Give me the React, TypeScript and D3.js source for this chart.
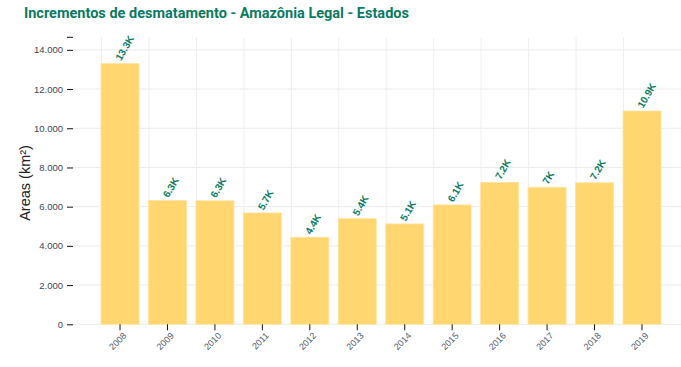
import React, { useEffect, useRef } from "react";
import * as d3 from "d3";

const years = ["2008", "2009", "2010", "2011", "2012", "2013", "2014", "2015", "2016", "2017", "2018", "2019"];
const areas = [13300, 6310, 6300, 5680, 4440, 5390, 5120, 6090, 7240, 6990, 7220, 10880];
const yTicks = [0, 2000, 4000, 6000, 8000, 10000, 12000, 14000];

const GREEN = "#0b7a63";
const BAR = "#ffd66f";

export default function App() {
  const ref = useRef<SVGSVGElement>(null);

  useEffect(() => {
    const width = 681;
    const svg = d3.select(ref.current);
    svg.selectAll("*").remove();

    const x = d3
      .scaleBand<string>()
      .domain(years)
      .range([96.3, 665.7])
      .paddingInner(0.2)
      .paddingOuter(0.1);

    const y = d3.scaleLinear().domain([0, 14640]).range([324.3, 37.3]);

    // title
    svg
      .append("text")
      .attr("x", 24)
      .attr("y", 17.5)
      .attr("fill", GREEN)
      .attr("font-family", "Roboto, sans-serif")
      .attr("font-weight", 700)
      .attr("font-size", 14.5)
      .text("Incrementos de desmatamento - Amazônia Legal - Estados");

    // horizontal grid
    svg
      .append("g")
      .selectAll("line")
      .data(yTicks)
      .join("line")
      .attr("x1", 73)
      .attr("x2", width)
      .attr("y1", (d) => y(d))
      .attr("y2", (d) => y(d))
      .attr("stroke", "#ececec")
      .attr("stroke-width", 1);

    // vertical grid at bar starts
    svg
      .append("g")
      .selectAll("line")
      .data(years)
      .join("line")
      .attr("x1", (d) => (x(d) as number) + 0.5)
      .attr("x2", (d) => (x(d) as number) + 0.5)
      .attr("y1", y.range()[1])
      .attr("y2", y(0))
      .attr("stroke", "#efefef")
      .attr("stroke-width", 1);

    // y axis
    const yAxis = svg
      .append("g")
      .attr("transform", `translate(73,0)`)
      .call(
        d3
          .axisLeft(y)
          .tickValues(yTicks)
          .tickSize(6)
          .tickSizeOuter(0)
          .tickFormat((d) => d3.format(",")(d as number).replace(/,/g, "."))
      );
    yAxis.select(".domain").remove();
    yAxis.selectAll("line").attr("stroke", "#111");
    yAxis
      .selectAll("text")
      .attr("fill", "#3b4454")
      .attr("font-family", "Liberation Sans, Arial, sans-serif")
      .attr("font-size", 9.5)
      .attr("x", -10);
    yAxis
      .append("line")
      .attr("x1", -6)
      .attr("x2", 0)
      .attr("y1", y.range()[1])
      .attr("y2", y.range()[1])
      .attr("stroke", "#111");

    // y label
    svg
      .append("text")
      .attr("transform", `translate(30,183) rotate(-90)`)
      .attr("text-anchor", "middle")
      .attr("fill", "#222")
      .attr("font-family", "Liberation Sans, Arial, sans-serif")
      .attr("font-size", 14.5)
      .text("Areas (km²)");

    // bars
    svg
      .append("g")
      .selectAll("rect")
      .data(years)
      .join("rect")
      .attr("x", (d) => x(d) as number)
      .attr("width", x.bandwidth())
      .attr("y", (d, i) => y(areas[i]))
      .attr("height", (d, i) => y(0) - y(areas[i]))
      .attr("fill", BAR)
      .attr("stroke", "#ffe3a0")
      .attr("stroke-width", 0.8);

    // x axis
    const xAxis = svg
      .append("g")
      .attr("transform", `translate(0,${y(0)})`)
      .call(d3.axisBottom(x).tickSize(6).tickSizeOuter(0));
    xAxis.select(".domain").remove();
    xAxis.selectAll("line").attr("stroke", "#111");
    xAxis
      .selectAll("text")
      .attr("fill", "#4e5a6e")
      .attr("font-family", "Liberation Sans, Arial, sans-serif")
      .attr("font-size", 9)
      .attr("text-anchor", "end")
      .attr("dy", null)
      .attr("y", 0)
      .attr("transform", "translate(7,12) rotate(-45)");

    // value labels
    const fmtK = (v: number) => `${Math.round(v / 100) / 10}K`;
    svg
      .append("g")
      .selectAll("text")
      .data(years)
      .join("text")
      .attr(
        "transform",
        (d, i) =>
          `translate(${(x(d) as number) + x.bandwidth() / 2 - 2},${y(areas[i]) - 4}) rotate(-60)`
      )
      .attr("fill", GREEN)
      .attr("font-family", "Liberation Sans, Arial, sans-serif")
      .attr("font-weight", 700)
      .attr("font-size", 10)
      .attr("dy", "0.35em")
      .text((d, i) => fmtK(areas[i]));
  }, []);

  return (
    <svg
      ref={ref}
      width={681}
      height={367}
      style={{ position: "absolute", left: 0, top: 0, background: "#fff" }}
    />
  );
}
